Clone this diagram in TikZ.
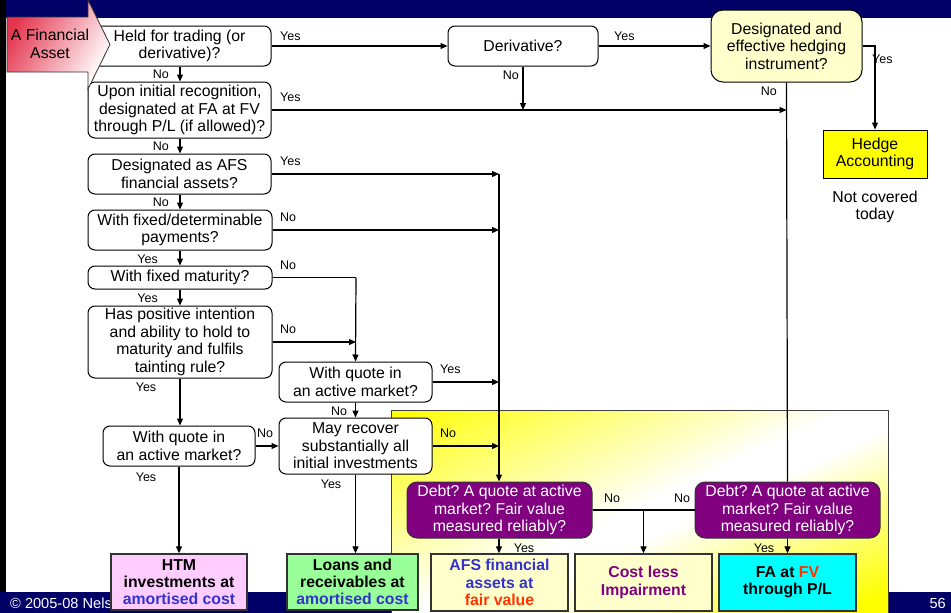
\documentclass[tikz,border=0pt]{standalone}
\usepackage{fontspec}
\setmainfont{Liberation Sans}
\usetikzlibrary{arrows.meta}
\frenchspacing

\definecolor{navy}{RGB}{0,0,102}
\definecolor{hlyellow}{RGB}{255,255,0}
\definecolor{aqua}{RGB}{0,255,255}
\definecolor{paleyel}{RGB}{255,255,204}
\definecolor{plum}{RGB}{128,0,128}
\definecolor{htmpink}{RGB}{255,204,255}
\definecolor{loangreen}{RGB}{153,255,153}
\definecolor{txtblue}{RGB}{51,51,204}
\definecolor{txtred}{RGB}{255,51,0}
\definecolor{arrowred}{RGB}{228,52,78}

\tikzset{
  qbox/.style={draw, line width=1pt, rounded corners=7pt, fill=white, align=center,
    inner sep=0pt, font=\fontsize{15.8}{17.4}\selectfont},
  pbox/.style={draw=black!80, line width=1pt, rounded corners=10pt, fill=plum, text=white,
    align=center, inner sep=0pt, font=\fontsize{15.8}{17.4}\selectfont},
  rbox/.style={draw=black!80, line width=1.3pt, align=center, inner sep=0pt,
    font=\fontsize{15.8}{17.2}\selectfont\bfseries},
  lab/.style={inner sep=0pt, font=\fontsize{12.5}{14}\selectfont},
  conn/.style={line width=1.2pt},
  arr/.style={line width=1.2pt, -{Triangle[length=7pt,width=6pt]}},
}

\begin{document}
\begin{tikzpicture}[x=1pt,y=-1pt]
\useasboundingbox (0,0) rectangle (951,613);

% slide frame
\fill[white] (0,0) rectangle (951,613);
\fill[black] (0,0) rectangle (6,613);
\fill[navy] (6,0) rectangle (951,18);
\fill[navy] (0,592) rectangle (951,613);

% highlighted area of the lower part: diagonal yellow-white-yellow gradient,
% built from thin strips running from lower left to upper right
\begin{scope}
  \clip (391,410) rectangle (888,640);
  \foreach \i in {0,...,89} {
    \pgfmathsetmacro{\sa}{-209+\i*4.64444}
    \pgfmathsetmacro{\sb}{\sa+5.44}
    \pgfmathsetmacro{\tt}{(\i+0.5)/90}
    \pgfmathsetmacro{\pp}{\tt<0.46 ? 100*(1-\tt/0.46) : (\tt>0.54 ? min(100,100*(\tt-0.54)/0.36) : 0)}
    \pgfmathsetmacro{\xa}{639.5+\sa*0.4197+400*0.9069}
    \pgfmathsetmacro{\ya}{525+\sa*0.9069-400*0.4197}
    \pgfmathsetmacro{\xb}{639.5+\sb*0.4197+400*0.9069}
    \pgfmathsetmacro{\yb}{525+\sb*0.9069-400*0.4197}
    \pgfmathsetmacro{\xc}{639.5+\sb*0.4197-400*0.9069}
    \pgfmathsetmacro{\yc}{525+\sb*0.9069+400*0.4197}
    \pgfmathsetmacro{\xd}{639.5+\sa*0.4197-400*0.9069}
    \pgfmathsetmacro{\yd}{525+\sa*0.9069+400*0.4197}
    \fill[hlyellow!\pp!white] (\xa,\ya) -- (\xb,\yb) -- (\xc,\yc) -- (\xd,\yd) -- cycle;
  }
\end{scope}
\draw[draw=black!75, line width=1pt] (391,410) rectangle (888,640);

% footer
\node[anchor=west, text=white, inner sep=0pt, font=\fontsize{14.6}{16}\selectfont]
  (copy) at (10,603) {© 2005-08 Nelson};
\node[anchor=east, text=white, inner sep=0pt, font=\fontsize{14.6}{16}\selectfont]
  (pageno) at (946,603) {56};

% question boxes, left column
\node[qbox, minimum width=183pt, minimum height=40pt] (held) at (179.5,46)
  {Held for trading (or\\derivative)?};
\node[qbox, minimum width=183pt, minimum height=56pt] (upon) at (179.5,110)
  {Upon initial recognition,\\designated at FA at FV\\through P/L (if allowed)?};
\node[qbox, minimum width=183pt, minimum height=40pt] (afsq) at (179.5,174)
  {Designated as AFS\\financial assets?};
\node[qbox, minimum width=184pt, minimum height=40pt] (fixpay) at (180,230)
  {With fixed/determinable\\payments?};
\node[qbox, minimum width=184pt, minimum height=23pt] (fixmat) at (180,277.5)
  {With fixed maturity?};
\node[qbox, minimum width=184pt, minimum height=72pt] (intent) at (180,342)
  {Has positive intention\\and ability to hold to\\maturity and fulfils\\tainting rule?};
\node[qbox, minimum width=152pt, minimum height=40pt] (quoteL) at (179,446)
  {With quote in\\an active market?};
\node[qbox, minimum width=153pt, minimum height=40pt] (quoteM) at (355.5,382)
  {With quote in\\an active market?};
\node[qbox, minimum width=153pt, minimum height=56pt] (recover) at (355.5,446)
  {May recover\\substantially all\\initial investments};

% top row
\node[qbox, minimum width=150pt, minimum height=40pt] (deriv) at (523,46) {Derivative?};
\node[qbox, fill=paleyel, rounded corners=12pt, minimum width=151pt, minimum height=72pt]
  (hedge) at (786.5,46) {Designated and\\effective hedging\\instrument?};
\node[draw, line width=1pt, fill=hlyellow, align=center, inner sep=0pt,
  minimum width=104pt, minimum height=48pt, font=\fontsize{15.8}{17.4}\selectfont]
  (hacc) at (875,154) {Hedge\\Accounting};
\node[align=center, inner sep=0pt, font=\fontsize{15.8}{17.4}\selectfont]
  (notcov) at (875,207) {Not covered\\today};

% fair value tests
\node[pbox, minimum width=185pt, minimum height=56pt] (debtA) at (499.5,510)
  {Debt? A quote at active\\market? Fair value\\measured reliably?};
\node[pbox, minimum width=185pt, minimum height=56pt] (debtB) at (787.5,510)
  {Debt? A quote at active\\market? Fair value\\measured reliably?};

% outcome boxes
\node[rbox, fill=htmpink, minimum width=136pt, minimum height=56pt] (htm) at (179,582)
  {HTM\\investments at\\\textcolor{txtblue}{amortised cost}};
\node[rbox, fill=loangreen, minimum width=131pt, minimum height=56pt] (loans) at (352.5,582)
  {Loans and\\receivables at\\\textcolor{txtblue}{amortised cost}};
\node[rbox, fill=paleyel, minimum width=137pt, minimum height=57pt] (afsr) at (499.5,582.5)
  {\textcolor{txtblue}{AFS financial}\\\textcolor{txtblue}{assets at}\\\textcolor{txtred}{fair value}};
\node[rbox, fill=paleyel, text=plum, minimum width=137pt, minimum height=57pt] (cost) at (643.5,582.5)
  {Cost less\\Impairment};
\node[rbox, fill=aqua, minimum width=137pt, minimum height=57pt] (fafv) at (787.5,582.5)
  {FA at \textcolor{txtred}{FV}\\through P/L};

% entry arrow
\path[draw=black!80, line width=0.8pt, top color=arrowred, bottom color=white,
  shading angle=60]
  (7,17) -- (88,17) -- (88,0) -- (110,44.5) -- (88,89) -- (88,72) -- (7,72) -- cycle;
\node[align=center, inner sep=0pt, font=\fontsize{15.8}{17.4}\selectfont]
  (fa) at (50,44) {A Financial\\Asset};

% junction points
\coordinate (jAFS) at (499,174);
\coordinate (jPay) at (499,230);
\coordinate (jMat) at (356,277.5);
\coordinate (jInt) at (356,342);
\coordinate (jHedge) at (875,46);
\coordinate (jCost) at (643.5,510);

% connectors: top row
\draw[arr] (held.east) -- (deriv.west);
\draw[arr] (deriv.east) -- (hedge.west);
\draw[arr] (upon.east) -- (upon.east -| hedge.south);
\draw[arr] (deriv.south) -- (deriv.south |- upon.east);
\draw[conn] (hedge.south) -- (debtB.north);
\draw[arr] (hedge.east) -- (jHedge) -- (hacc.north);

% connectors: left column
\draw[arr] (held.south -| 180,0) -- (upon.north -| 180,0);
\draw[arr] (upon.south -| 180,0) -- (afsq.north -| 180,0);
\draw[arr] (afsq.south -| 180,0) -- (fixpay.north);
\draw[arr] (fixpay.south) -- (fixmat.north);
\draw[arr] (fixmat.south) -- (intent.north);
\draw[arr] (intent.south) -- (intent.south |- quoteL.north);
\draw[arr] (quoteL.south) -- (htm.north);

\draw[arr] (afsq.east) -- (jAFS);
\draw[arr] (jAFS) -- (jAFS |- debtA.north);
\draw[arr] (fixpay.east) -- (jPay);
\draw[conn] (fixmat.east) -- (jMat);
\draw[arr] (jMat) -- (quoteM.north);
\draw[arr] (intent.east) -- (jInt);

\draw[arr] (quoteL.east) -- (recover.west);
\draw[arr] (quoteM.south) -- (recover.north);
\draw[arr] (quoteM.east) -- (quoteM.east -| jAFS);
\draw[arr] (recover.east) -- (recover.east -| jAFS);
\draw[arr] (recover.south) -- (recover.south |- loans.north);

% connectors: fair value tests
\draw[arr] (debtA.south -| jAFS) -- (afsr.north -| jAFS);
\draw[arr] (debtB.south) -- (fafv.north);
\draw[conn] (debtA.east) -- (debtB.west);
\draw[arr] (jCost) -- (cost.north);

% branch labels
\node[lab, anchor=west] (l1) at (280,36) {Yes};
\node[lab, anchor=west] (l2) at (614,36) {Yes};
\node[lab, anchor=west] (l3) at (280,97) {Yes};
\node[lab, anchor=east] (l4) at (519,75) {No};
\node[lab, anchor=east] (l5) at (777,91) {No};
\node[lab, anchor=west] (l6) at (872,59) {Yes};
\node[lab, anchor=east] (l7) at (169,74) {No};
\node[lab, anchor=east] (l8) at (169,146) {No};
\node[lab, anchor=west] (l9) at (280,161) {Yes};
\node[lab, anchor=east] (l10) at (169,202) {No};
\node[lab, anchor=west] (l11) at (280,217) {No};
\node[lab, anchor=east] (l12) at (158,259) {Yes};
\node[lab, anchor=west] (l13) at (280,265) {No};
\node[lab, anchor=east] (l14) at (158,298) {Yes};
\node[lab, anchor=west] (l15) at (280,329) {No};
\node[lab] (l16) at (146,387) {Yes};
\node[lab, anchor=west] (l17) at (257,433) {No};
\node[lab] (l18) at (146,477) {Yes};
\node[lab, anchor=west] (l19) at (440,369) {Yes};
\node[lab] (l20) at (339,411) {No};
\node[lab, anchor=west] (l21) at (440,433) {No};
\node[lab] (l22) at (331,484) {Yes};
\node[lab] (l23) at (524,548) {Yes};
\node[lab] (l24) at (764,548) {Yes};
\node[lab] (l25) at (612,498) {No};
\node[lab] (l26) at (682,498) {No};
\end{tikzpicture}
\end{document}
